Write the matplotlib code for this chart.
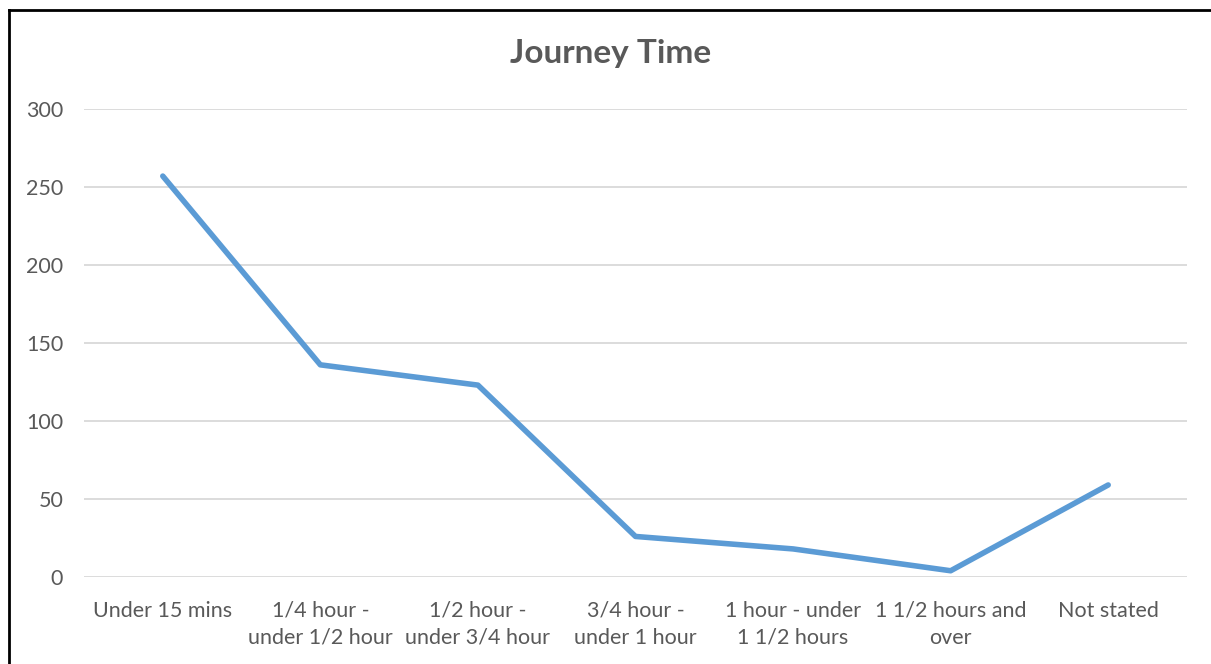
import matplotlib
matplotlib.use('Agg')
import matplotlib.pyplot as plt
from matplotlib.lines import Line2D

plt.rcParams['font.family'] = ['Lato', 'DejaVu Sans']

categories = ['Under 15 mins', '1/4 hour -\nunder 1/2 hour', '1/2 hour -\nunder 3/4 hour',
              '3/4 hour -\nunder 1 hour', '1 hour - under\n1 1/2 hours', '1 1/2 hours and\nover',
              'Not stated']
values = [257, 136, 123, 26, 18, 4, 59]
yticks = [0, 50, 100, 150, 200, 250, 300]

W, H = 1211, 664
fig = plt.figure(figsize=(W / 100, H / 100), dpi=100)
ax = fig.add_axes([84 / W, 1 - 577 / H, (1187 - 84) / W, (577 - 109) / H])

x = list(range(len(categories)))
ax.plot(x, values, color='#5b9bd5', lw=4, solid_joinstyle='round', solid_capstyle='round', zorder=3)

ax.set_xlim(-0.5, len(categories) - 0.5)
ax.set_ylim(0, 300)
ax.set_yticks(yticks)
ax.set_xticks(x)
ax.set_xticklabels(categories, fontsize=15.5, color='#595959', linespacing=1.45)
ax.tick_params(axis='y', labelsize=15.5, labelcolor='#595959', length=0, pad=15)
ax.tick_params(axis='x', length=0, pad=17)
ax.grid(axis='y', color='#d9d9d9', lw=1.3)
ax.set_axisbelow(True)
for s in ax.spines.values():
    s.set_visible(False)

fig.text(611 / W, 1 - 53 / H, 'Journey Time', ha='center', va='center',
         fontsize=24, fontweight='bold', color='#595959')

# outer border (left and top visible)
fig.add_artist(Line2D([8.5 / W, 8.5 / W], [0, 1 - 9.5 / H], transform=fig.transFigure, color='black', lw=2))
fig.add_artist(Line2D([8.5 / W, 1], [1 - 9.5 / H, 1 - 9.5 / H], transform=fig.transFigure, color='black', lw=2))

fig.savefig('out.png', dpi=100)
